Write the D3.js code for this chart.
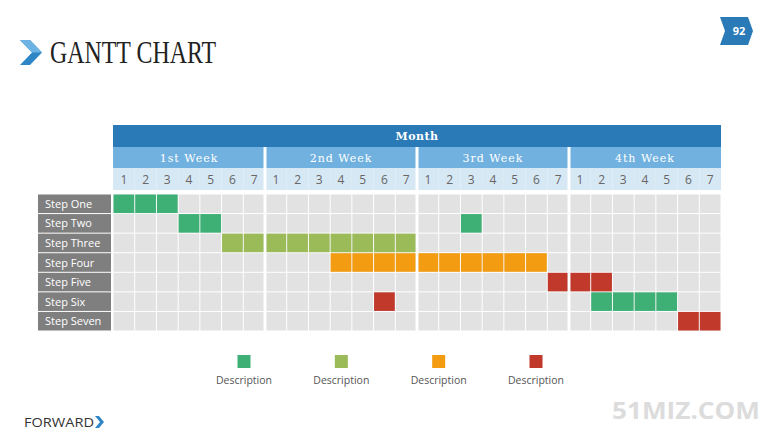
<!DOCTYPE html>
<html>
<head>
<meta charset="utf-8">
<script src="https://cdn.jsdelivr.net/npm/d3@7"></script>
<style>
  body { margin: 0; background: #fff; }
  svg { display: block; }
</style>
</head>
<body>
<div id="vis"></div>
<script>
// chart data
const STEPS = ["Step One", "Step Two", "Step Three", "Step Four", "Step Five", "Step Six", "Step Seven"];
const WEEKS = ["1st Week", "2nd Week", "3rd Week", "4th Week"];
const DAY_LABELS = ["1", "2", "3", "4", "5", "6", "7"];
const CATEGORIES = ["Description", "Description", "Description", "Description"];
const CAT_COLORS = ["#3eb075", "#9bbb59", "#f39c12", "#c0392b"];
// tasks: step, first day, last day (1..28), category index
const TASK_STEP = ["Step One", "Step Two", "Step Two", "Step Three", "Step Four", "Step Five", "Step Six", "Step Six", "Step Seven"];
const TASK_START = [1, 4, 17, 6, 11, 21, 13, 23, 27];
const TASK_END = [3, 5, 17, 14, 20, 23, 13, 26, 28];
const TASK_CAT = [0, 0, 0, 1, 2, 3, 3, 0, 3];

const WIDTH = 780, HEIGHT = 439;
const GRID = {left: 113, right: 721, top: 194, bottom: 331};
const HEAD = {month: 125, week: 147, day: 168, end: 190};

const svg = d3.select("#vis").append("svg")
  .attr("width", WIDTH).attr("height", HEIGHT);

const days = d3.range(1, 29);
const X = d3.scaleLinear().domain([1, 29]).range([GRID.left, GRID.right]);
const Y = d3.scaleBand().domain(STEPS).range([GRID.top, GRID.bottom]);
const DW = X(2) - X(1);

// gaps at week boundaries
const padL = d => ((d - 1) % 7 === 0 && d > 1 ? 1 : 0);
const padR = d => (d % 7 === 0 && d < 28 ? 1 : 0);

// title
svg.append("path")
  .attr("d", "M20,40 L30,40 L42,52.5 L30,65 L20,65 L32,52.5 Z")
  .attr("fill", "#2f86c6");
svg.append("path")
  .attr("d", "M20,40 L30,40 L42,52.5 L32,52.5 Z")
  .attr("fill", "#6db3e4");
svg.append("text")
  .attr("x", 50).attr("y", 63)
  .attr("font-family", "Liberation Serif, DejaVu Serif, serif")
  .attr("font-size", 31)
  .attr("textLength", 166).attr("lengthAdjust", "spacingAndGlyphs")
  .attr("fill", "#222")
  .text("GANTT CHART");

// page badge
svg.append("path")
  .attr("d", "M720,17 L748,17 L753,31 L748,45 L720,45 L725,31 Z")
  .attr("fill", "#2a7ab8");
svg.append("text")
  .attr("x", 739).attr("y", 35).attr("text-anchor", "middle")
  .attr("font-family", "Open Sans, sans-serif").attr("font-weight", "bold")
  .attr("font-size", 11).attr("fill", "#fff").text("92");

// header rows
svg.append("rect")
  .attr("x", GRID.left).attr("y", HEAD.month)
  .attr("width", GRID.right - GRID.left).attr("height", HEAD.week - HEAD.month)
  .attr("fill", "#2a7ab8");
svg.append("text")
  .attr("x", (GRID.left + GRID.right) / 2).attr("y", 140)
  .attr("text-anchor", "middle")
  .attr("font-family", "DejaVu Serif, serif").attr("font-weight", "bold")
  .attr("font-size", 11).attr("letter-spacing", 0.5).attr("fill", "#fff").text("Month");

svg.selectAll(".week").data(WEEKS).join("rect")
  .attr("x", (d, i) => X(1 + i * 7) + (i > 0 ? 1.5 : 0))
  .attr("y", HEAD.week)
  .attr("width", (d, i) => 7 * DW - (i > 0 ? 1.5 : 0) - (i < 3 ? 1.5 : 0))
  .attr("height", HEAD.day - HEAD.week)
  .attr("fill", "#70b1df");
svg.selectAll(".weekLabel").data(WEEKS).join("text")
  .attr("x", (d, i) => X(1 + i * 7) + 3.5 * DW)
  .attr("y", 162).attr("text-anchor", "middle")
  .attr("font-family", "DejaVu Serif, serif")
  .attr("font-size", 11).attr("fill", "#fff")
  .attr("letter-spacing", 1)
  .text(d => d);

svg.selectAll(".day").data(days).join("rect")
  .attr("x", d => X(d) + padL(d) * 1.5)
  .attr("y", HEAD.day)
  .attr("width", d => DW - padL(d) * 1.5 - padR(d) * 1.5)
  .attr("height", HEAD.end - HEAD.day)
  .attr("fill", "#d7e8f5");
svg.selectAll(".dayLabel").data(days).join("text")
  .attr("x", d => X(d) + DW / 2).attr("y", 184)
  .attr("text-anchor", "middle")
  .attr("font-family", "Open Sans, sans-serif")
  .attr("font-size", 12).attr("fill", "#666")
  .text(d => DAY_LABELS[(d - 1) % 7]);

// step labels
svg.selectAll(".stepBox").data(STEPS).join("rect")
  .attr("x", 38).attr("y", d => Y(d) + 0.5)
  .attr("width", GRID.left - 2 - 38).attr("height", Y.bandwidth() - 1)
  .attr("fill", "#7f7f7f");
svg.selectAll(".stepLabel").data(STEPS).join("text")
  .attr("x", 45).attr("y", d => Y(d) + Y.bandwidth() / 2 + 4)
  .attr("font-family", "Open Sans, sans-serif")
  .attr("font-size", 11).attr("fill", "#fff")
  .text(d => d);

// grid cells
const cells = [];
STEPS.forEach(s => days.forEach(d => cells.push({s, d})));
svg.selectAll(".cell").data(cells).join("rect")
  .attr("x", c => X(c.d) + 0.5 + padL(c.d))
  .attr("y", c => Y(c.s) + 0.5)
  .attr("width", c => DW - 1 - padL(c.d) - padR(c.d))
  .attr("height", Y.bandwidth() - 1)
  .attr("fill", "#e2e2e2");

// task bars, one block per day
const blocks = [];
TASK_STEP.forEach((s, i) => {
  d3.range(TASK_START[i], TASK_END[i] + 1).forEach(d => blocks.push({s, d, c: TASK_CAT[i]}));
});
svg.selectAll(".block").data(blocks).join("rect")
  .attr("x", b => X(b.d) + 0.5 + padL(b.d))
  .attr("y", b => Y(b.s) + 0.5)
  .attr("width", b => DW - 1 - padL(b.d) - padR(b.d))
  .attr("height", Y.bandwidth() - 1)
  .attr("fill", b => CAT_COLORS[b.c]);

// legend
const LX = d3.scalePoint().domain(d3.range(CATEGORIES.length)).range([244, 536]);
svg.selectAll(".legSq").data(CATEGORIES).join("rect")
  .attr("x", (d, i) => LX(i) - 6.5).attr("y", 355)
  .attr("width", 13).attr("height", 13)
  .attr("fill", (d, i) => CAT_COLORS[i]);
svg.selectAll(".legText").data(CATEGORIES).join("text")
  .attr("x", (d, i) => LX(i)).attr("y", 384)
  .attr("text-anchor", "middle")
  .attr("font-family", "Open Sans, sans-serif")
  .attr("font-size", 10.5).attr("fill", "#555")
  .text(d => d);

// footer
svg.append("text")
  .attr("x", 24).attr("y", 427)
  .attr("font-family", "Open Sans, sans-serif").attr("font-weight", "500")
  .attr("font-size", 13).attr("fill", "#333")
  .attr("textLength", 70).attr("lengthAdjust", "spacingAndGlyphs")
  .text("FORWARD");
svg.append("path")
  .attr("d", "M95,416 L99,416 L104,422 L99,428 L95,428 L100,422 Z")
  .attr("fill", "#2f86c6");
svg.append("text")
  .attr("x", 612).attr("y", 419)
  .attr("font-family", "Open Sans, sans-serif").attr("font-weight", "bold")
  .attr("font-size", 24).attr("fill", "#dcdcdc")
  .attr("textLength", 148).attr("lengthAdjust", "spacingAndGlyphs")
  .text("51MIZ.COM");
</script>
</body>
</html>
